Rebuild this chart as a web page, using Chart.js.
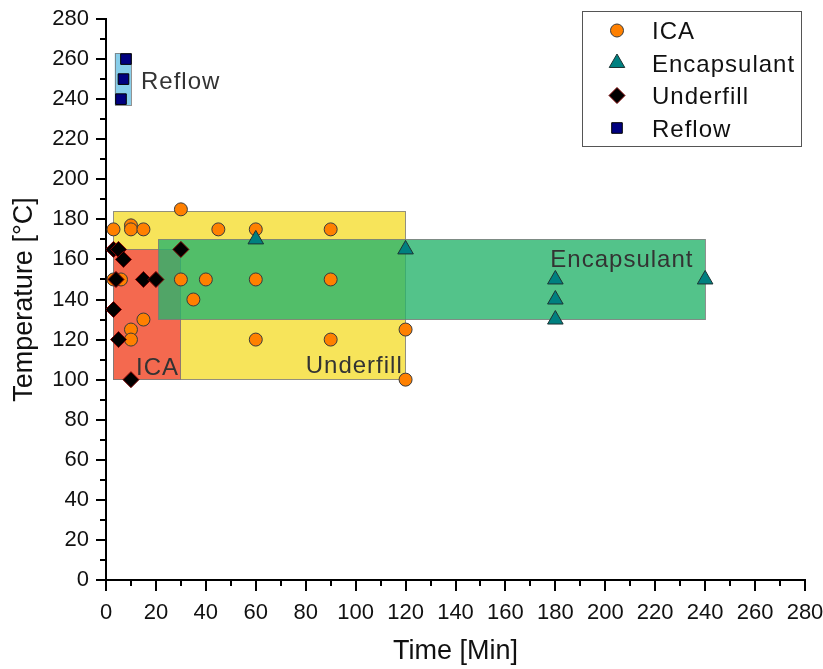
<!DOCTYPE html>
<html>
<head>
<meta charset="utf-8">
<title>Temperature vs Time</title>
<script src="https://cdn.jsdelivr.net/npm/chart.js@4/dist/chart.umd.min.js"></script>
<style>
  body { margin: 0; background: #fff; }
  canvas { display: block; }
</style>
</head>
<body>
<canvas id="chart" width="823" height="669"></canvas>
<script>
//------------------Data------------------
const icaTime = [3, 10, 10, 15, 30, 45, 60, 90, 3, 6, 30, 40, 60, 90, 35, 15, 10, 10, 60, 90, 120, 120];
const icaTemp = [175, 177, 175, 175, 185, 175, 175, 175, 150, 150, 150, 150, 150, 150, 140, 130, 125, 120, 120, 120, 125, 100];

const encTime = [60, 120, 180, 180, 180, 240];
const encTemp = [170, 165, 150, 140, 130, 150];

const underTime = [3, 5, 7, 30, 4, 15, 20, 3, 5, 10];
const underTemp = [165, 165, 160, 165, 150, 150, 150, 135, 120, 100];

const reflowTime = [8, 7, 6];
const reflowTemp = [260, 250, 240];

// process windows (time from/to, temperature from/to)
const regionNames = ['Underfill', 'ICA', 'Encapsulant', 'Reflow'];
const regionTimeFrom = [3, 3, 21, 3.5];
const regionTimeTo = [120, 30, 240, 10];
const regionTempFrom = [100, 100, 130, 237];
const regionTempTo = [184, 165, 170, 263];

const xTicks = [0, 280, 20];
const yTicks = [0, 280, 20];

//------------------Styles------------------
const regionFill = ['#f7e45a', '#f4694f', 'rgba(40, 180, 109, 0.8)', '#87ceeb'];
// where the name of each window is written: [time, temp] of the text baseline start
const regionLabelAt = [[80, 103.5], [12, 102.5], [178, 156], [14, 245]];

const series = [
  { label: 'ICA', style: 'circle', r: 6.5, fill: '#ff8000', stroke: '#3b3b3b' },
  { label: 'Encapsulant', style: 'triangle', r: 9, fill: '#008080', stroke: '#1d3333' },
  { label: 'Underfill', style: 'rectRot', r: 8, fill: '#000000', stroke: '#7a0000' },
  { label: 'Reflow', style: 'rect', r: 7.5, fill: '#000080', stroke: '#000000' },
];

const toPoints = (xs, ys) => xs.map((x, i) => ({ x, y: ys[i] }));
const pointSets = [
  toPoints(icaTime, icaTemp),
  toPoints(encTime, encTemp),
  toPoints(underTime, underTemp),
  toPoints(reflowTime, reflowTemp),
];

const FONT = "'Liberation Sans', Arial, sans-serif";

//------------------Marker drawing for the hand made legend------------------
const drawMarker = (ctx, style, x, y, r) => {
  ctx.beginPath();
  if (style === 'circle') {
    ctx.arc(x, y, r, 0, Math.PI * 2);
  } else if (style === 'triangle') {
    ctx.moveTo(x, y - r);
    ctx.lineTo(x + r * Math.sin(Math.PI * 2 / 3), y + r / 2);
    ctx.lineTo(x - r * Math.sin(Math.PI * 2 / 3), y + r / 2);
  } else if (style === 'rectRot') {
    ctx.moveTo(x, y - r);
    ctx.lineTo(x + r, y);
    ctx.lineTo(x, y + r);
    ctx.lineTo(x - r, y);
  } else {
    const s = r * Math.SQRT1_2;
    ctx.rect(x - s, y - s, s * 2, s * 2);
  }
  ctx.closePath();
  ctx.fill();
  ctx.stroke();
};

//------------------Plugin: process windows behind the points------------------
const regionsPlugin = {
  id: 'regions',
  beforeDatasetsDraw(chart) {
    const { ctx, scales: { x, y } } = chart;
    ctx.save();
    regionNames.forEach((name, i) => {
      const left = x.getPixelForValue(regionTimeFrom[i]);
      const right = x.getPixelForValue(regionTimeTo[i]);
      const top = y.getPixelForValue(regionTempTo[i]);
      const bottom = y.getPixelForValue(regionTempFrom[i]);
      ctx.fillStyle = regionFill[i];
      ctx.fillRect(left, top, right - left, bottom - top);
      ctx.strokeStyle = 'rgba(120, 120, 120, 0.8)';
      ctx.lineWidth = 1;
      ctx.strokeRect(Math.round(left) + 0.5, Math.round(top) + 0.5, Math.round(right - left), Math.round(bottom - top));
    });
    ctx.font = `24px ${FONT}`;
    ctx.letterSpacing = '1px';
    ctx.fillStyle = '#333';
    ctx.textBaseline = 'alphabetic';
    regionNames.forEach((name, i) => {
      const [tx, ty] = regionLabelAt[i];
      ctx.fillText(name, x.getPixelForValue(tx), y.getPixelForValue(ty));
    });
    ctx.restore();
  },
};

//------------------Plugin: tick marks (major + minor) and legend box------------------
const extrasPlugin = {
  id: 'extras',
  afterDraw(chart) {
    const { ctx, scales: { x, y } } = chart;
    ctx.save();
    ctx.strokeStyle = '#000';
    ctx.lineWidth = 2;
    for (let v = xTicks[0]; v <= xTicks[1]; v += xTicks[2] / 2) {
      const px = Math.round(x.getPixelForValue(v));
      const len = v % xTicks[2] === 0 ? 11 : 6;
      ctx.beginPath();
      ctx.moveTo(px, y.bottom);
      ctx.lineTo(px, y.bottom + len);
      ctx.stroke();
    }
    for (let v = yTicks[0]; v <= yTicks[1]; v += yTicks[2] / 2) {
      const py = Math.round(y.getPixelForValue(v));
      const len = v % yTicks[2] === 0 ? 10 : 6;
      ctx.beginPath();
      ctx.moveTo(x.left, py);
      ctx.lineTo(x.left - len, py);
      ctx.stroke();
    }

    // legend
    ctx.lineWidth = 1;
    ctx.strokeStyle = '#555';
    ctx.strokeRect(582.5, 11.5, 219, 135);
    ctx.font = `24px ${FONT}`;
    ctx.letterSpacing = '1px';
    ctx.textBaseline = 'alphabetic';
    series.forEach((s, i) => {
      const base = 39 + i * 32.5;
      ctx.fillStyle = s.fill;
      ctx.strokeStyle = s.stroke;
      drawMarker(ctx, s.style, 617, base - 8.5, s.r);
      ctx.fillStyle = '#111';
      ctx.fillText(s.label, 652, base);
    });
    ctx.restore();
  },
};

//------------------Chart------------------
new Chart(document.getElementById('chart'), {
  type: 'scatter',
  data: {
    datasets: series.map((s, i) => ({
      label: s.label,
      data: pointSets[i],
      pointStyle: s.style,
      pointRadius: s.r,
      pointHoverRadius: s.r,
      backgroundColor: s.fill,
      borderColor: s.stroke,
      borderWidth: 1,
      order: 4 - i,
    })),
  },
  options: {
    responsive: false,
    devicePixelRatio: 1,
    animation: false,
    layout: { padding: { top: 19, right: 18, left: 0, bottom: 0 } },
    plugins: {
      legend: { display: false },
      tooltip: { enabled: false },
    },
    scales: {
      x: {
        type: 'linear',
        min: xTicks[0],
        max: xTicks[1],
        ticks: { stepSize: xTicks[2], padding: 20, color: '#111', font: { family: FONT, size: 22 } },
        grid: { display: false, drawTicks: false },
        border: { display: true, color: '#000', width: 2 },
        title: {
          display: true,
          text: 'Time [Min]',
          color: '#111',
          font: { family: FONT, size: 27 },
          padding: { top: 0, bottom: 1 },
        },
        afterFit: (scale) => {
          scale.height = 89;
          scale.paddingLeft = 0;
          scale.paddingRight = 0;
        },
      },
      y: {
        type: 'linear',
        min: yTicks[0],
        max: yTicks[1],
        ticks: { stepSize: yTicks[2], padding: 17, color: '#111', font: { family: FONT, size: 22 } },
        grid: { display: false, drawTicks: false },
        border: { display: true, color: '#000', width: 2 },
        title: {
          display: true,
          text: 'Temperature [°C]',
          color: '#111',
          font: { family: FONT, size: 27 },
          padding: { top: 8, bottom: 0 },
        },
        afterFit: (scale) => {
          scale.width = 106;
          scale.paddingTop = 0;
          scale.paddingBottom = 0;
        },
      },
    },
  },
  plugins: [regionsPlugin, extrasPlugin],
});
</script>
</body>
</html>
